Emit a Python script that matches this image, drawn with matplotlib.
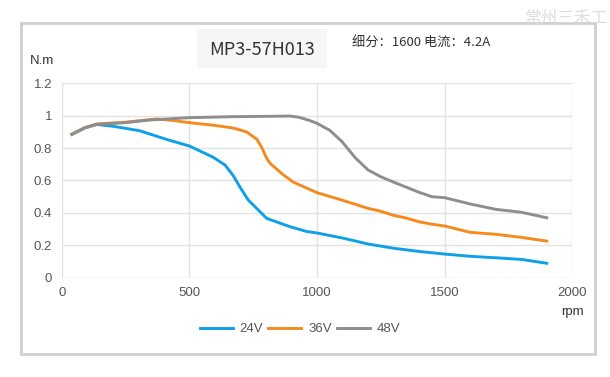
import matplotlib
matplotlib.use("Agg")
import matplotlib.pyplot as plt
from matplotlib.patches import Rectangle

# speed (rpm) and torque (N.m)
speed_24 = [40, 90, 137, 200, 306, 410, 500, 594, 640, 672, 698, 731, 803, 894, 960, 1000,
            1100, 1200, 1300, 1400, 1500, 1600, 1700, 1800, 1900]
torque_24 = [0.885, 0.925, 0.946, 0.935, 0.907, 0.854, 0.813, 0.743, 0.695, 0.63, 0.56, 0.479,
             0.366, 0.315, 0.285, 0.276, 0.245, 0.208, 0.182, 0.162, 0.146, 0.132, 0.123, 0.113, 0.089]

speed_36 = [40, 90, 137, 250, 372, 440, 500, 600, 672, 724, 764, 785, 800, 816, 868, 907, 1000,
            1100, 1200, 1250, 1300, 1350, 1400, 1450, 1500, 1600, 1700, 1800, 1900]
torque_36 = [0.885, 0.925, 0.949, 0.96, 0.98, 0.97, 0.957, 0.94, 0.924, 0.90, 0.855, 0.80,
             0.745, 0.706, 0.635, 0.59, 0.525, 0.478, 0.428, 0.41, 0.385, 0.368, 0.345, 0.33,
             0.319, 0.28, 0.268, 0.249, 0.226]

speed_48 = [40, 90, 137, 250, 342, 500, 672, 800, 894, 930, 972, 1000, 1050, 1098, 1150, 1200,
            1250, 1300, 1400, 1450, 1500, 1600, 1700, 1800, 1900]
torque_48 = [0.885, 0.925, 0.946, 0.957, 0.973, 0.988, 0.994, 0.996, 0.998, 0.99, 0.97, 0.953,
             0.91, 0.84, 0.74, 0.665, 0.623, 0.59, 0.527, 0.5, 0.494, 0.455, 0.422, 0.404, 0.37]

labels = ["24V", "36V", "48V"]
colors = ["#10a0e8", "#f58b1f", "#8e8e8e"]
x_ticks = [0, 500, 1000, 1500, 2000]
y_ticks = [0, 0.2, 0.4, 0.6, 0.8, 1.0, 1.2]
y_tick_labels = ["0", "0.2", "0.4", "0.6", "0.8", "1", "1.2"]

plt.rcParams['font.family'] = ['Liberation Sans', 'Noto Sans CJK SC', 'DejaVu Sans']

fig = plt.figure(figsize=(6.1, 3.77), dpi=100)
ax = fig.add_axes([61.7 / 610, 1 - 277.7 / 377, 510.6 / 610, 194.4 / 377])

# outer frame and title box
fig.patches.append(Rectangle((21 / 610, 1 - 354 / 377), 574 / 610, 331 / 377,
                             transform=fig.transFigure, fill=False,
                             edgecolor="#cfcfcf", linewidth=2))
fig.patches.append(Rectangle((197 / 610, 1 - 68 / 377), 130 / 610, 39 / 377,
                             transform=fig.transFigure, facecolor="#f6f6f6",
                             edgecolor="none"))

for s, t, lab, c in zip([speed_24, speed_36, speed_48], [torque_24, torque_36, torque_48],
                        labels, colors):
    ax.plot(s, t, color=c, linewidth=2.1, label=lab, solid_joinstyle="round")

ax.set_xlim(0, 2000)
ax.set_ylim(0, 1.2)
ax.set_xticks(x_ticks)
ax.set_yticks(y_ticks)
ax.set_yticklabels(y_tick_labels)
ax.grid(True, color="#e2e2e2", linewidth=1)
ax.set_axisbelow(True)
for sp in ax.spines.values():
    sp.set_visible(False)
ax.tick_params(length=0, labelsize=9.5, labelcolor="#555555", pad=7)

fig.text(30 / 610, 1 - 61 / 377, "N.m", fontsize=9.5, color="#333333", va="center")
fig.text(572 / 610, 1 - 312 / 377, "rpm", fontsize=9.5, color="#333333", ha="center", va="center")
fig.text(262 / 610, 1 - 50 / 377, "MP3-57H013", fontsize=13, color="#333333",
         ha="center", va="center", family=["Noto Sans CJK SC", "DejaVu Sans"])
fig.text(490 / 610, 1 - 42 / 377, "细分：1600 电流：4.2A", fontsize=9.5, color="#333333",
         ha="right", va="center", family=["Noto Sans CJK SC", "DejaVu Sans"])
fig.text(608 / 610, 1 - 18 / 377, "常州三禾工", fontsize=12, color="#dddddd",
         ha="right", va="center", family=["Noto Sans CJK SC", "DejaVu Sans"])

fig.legend(loc="center", bbox_to_anchor=(300 / 610, 1 - 329 / 377), ncol=3,
           frameon=False, fontsize=9.5, labelcolor="#555555", handlelength=2.5,
           handletextpad=0.5, columnspacing=0.4)

fig.savefig("out.png", dpi=100)
